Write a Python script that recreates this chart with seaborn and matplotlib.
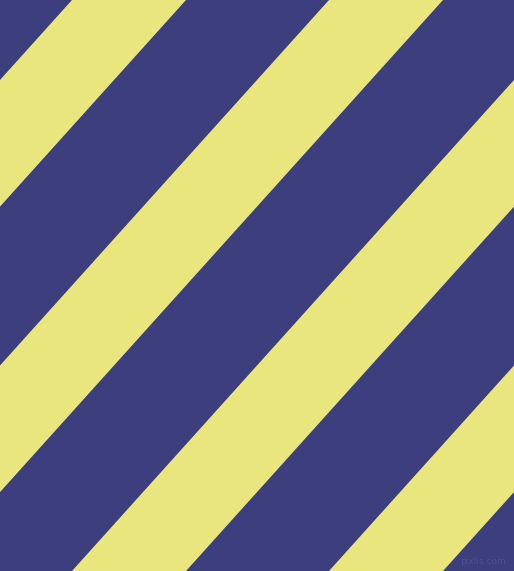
import numpy as np
import matplotlib
matplotlib.use("Agg")
import matplotlib.pyplot as plt
import seaborn as sns

# Colores
azul = "#3c3e7d"
amarillo = "#eae67e"

# Franjas amarillas: cruce con el borde superior (x en px), extendido
franja_ini = [72, 329, 586, 843]
franja_fin = [186, 443, 700, 957]

# Inclinacion: x avanza 514 px por cada 571 px de alto
ancho = 514
alto = 571
pendiente = alto / ancho

sns.set_theme(style="white")

fig = plt.figure(figsize=(ancho / 100, alto / 100), dpi=100)
ax = fig.add_axes([0, 0, 1, 1])
ax.set_facecolor(azul)

x = np.array([0, ancho], dtype=float)
for c1, c2 in zip(franja_ini, franja_fin):
    y1 = (c1 - x) * pendiente
    y2 = (c2 - x) * pendiente
    ax.fill_between(x, y1, y2, color=amarillo, linewidth=0)

ax.set_xlim(0, ancho)
ax.set_ylim(alto, 0)
ax.axis("off")
fig.patch.set_facecolor(azul)

# marca de agua
ax.text(506, 566, "pixlis.com", ha="right", va="bottom",
        fontsize=6.5, color="#50528a")

fig.savefig("out.png", dpi=100, facecolor=azul)
